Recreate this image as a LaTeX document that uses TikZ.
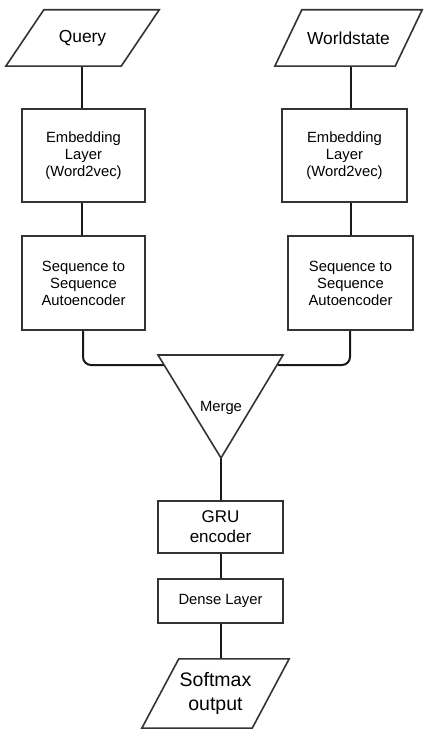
\documentclass[tikz,border=0pt]{standalone}
\usepackage{fontspec}
\setmainfont{Liberation Sans}
\newcommand\fsA{\fontsize{14.8bp}{17bp}\selectfont}
\newcommand\fsB{\fontsize{17.4bp}{20bp}\selectfont}
\newcommand\fsC{\fontsize{17bp}{20bp}\selectfont}
\newcommand\fsD{\fontsize{19.5bp}{24bp}\selectfont}
\begin{document}
\begin{tikzpicture}[x=1bp,y=-1bp,
  box/.style={draw=black!80, line width=1.6bp, fill=white, inner sep=0pt, align=center, font=\fsA},
  ghost/.style={inner sep=0pt, align=center},
  shapeline/.style={draw=black!80, line width=1.6bp, fill=white, line join=miter},
  conn/.style={draw=black!90, line width=2bp, rounded corners=8bp}]
\useasboundingbox (0,0) rectangle (423,729);

% input parallelograms (drawn around invisible named nodes)
\node[ghost, minimum width=115bp, minimum height=56bp, font=\fsB] (q) at (82.5,38) {Query};
\node[ghost, minimum width=120bp, minimum height=56bp, font=\fsB] (w) at (348.5,38) {Worldstate};
\node[ghost, minimum width=110bp, minimum height=69bp, font=\fsD] (sm) at (215.5,693.5) {Softmax\\output};

% boxes
\node[box, minimum width=123bp, minimum height=93bp] (el) at (83.5,155.5) {Embedding\\Layer\\(Word2vec)};
\node[box, minimum width=123bp, minimum height=94bp] (sl) at (83.5,283) {Sequence to\\Sequence\\Autoencoder};
\node[box, minimum width=125bp, minimum height=93bp] (er) at (344.5,155.5) {Embedding\\Layer\\(Word2vec)};
\node[box, minimum width=125bp, minimum height=94bp] (sr) at (350.5,283) {Sequence to\\Sequence\\Autoencoder};
\node[box, minimum width=125bp, minimum height=52bp, font=\fsC] (gru) at (220.5,527) {GRU\\encoder};
\node[box, minimum width=125bp, minimum height=44bp] (dense) at (220.5,601) {Dense Layer};

% merge triangle
\coordinate (mtl) at (158,355);
\coordinate (mtr) at (283,355);
\coordinate (mbot) at (221,458);
\coordinate (ml) at (164,365);
\coordinate (mr) at (277.5,365);
\coordinate (cl) at (83,365);
\coordinate (cr) at (350,365);

% connectors
\draw[conn] (q.south -| 82,0) -- (el.north -| 82,0);
\draw[conn] (el.south -| 82,0) -- (sl.north -| 82,0);
\draw[conn] (w.south -| 351,0) -- (er.north -| 351,0);
\draw[conn] (er.south -| 351,0) -- (sr.north -| 351,0);
\draw[conn] (sl.south -| cl) -- (cl) -- (ml);
\draw[conn] (sr.south -| cr) -- (cr) -- (mr);
\draw[conn] (mbot) -- (gru.north -| mbot);
\draw[conn] (gru.south -| mbot) -- (dense.north -| mbot);
\draw[conn] (dense.south -| mbot) -- (sm.north -| mbot);

% shapes
\path[shapeline] (mtl) -- (mtr) -- (mbot) -- cycle;
\node[ghost, font=\fsA] (merge) at (221,408) {Merge};
\path[shapeline] ([xshift=19bp]q.north west) -- ([xshift=19bp]q.north east) -- ([xshift=-19bp]q.south east) -- ([xshift=-19bp]q.south west) -- cycle;
\path[shapeline] ([xshift=13.5bp]w.north west) -- ([xshift=13.5bp]w.north east) -- ([xshift=-13.5bp]w.south east) -- ([xshift=-13.5bp]w.south west) -- cycle;
\path[shapeline] ([xshift=18.5bp]sm.north west) -- ([xshift=18.5bp]sm.north east) -- ([xshift=-18.5bp]sm.south east) -- ([xshift=-18.5bp]sm.south west) -- cycle;
\node[ghost, font=\fsB] at (q) {Query};
\node[ghost, font=\fsB] at (w) {Worldstate};
\node[ghost, font=\fsD] at (sm) {Softmax\\output};
\end{tikzpicture}
\end{document}
